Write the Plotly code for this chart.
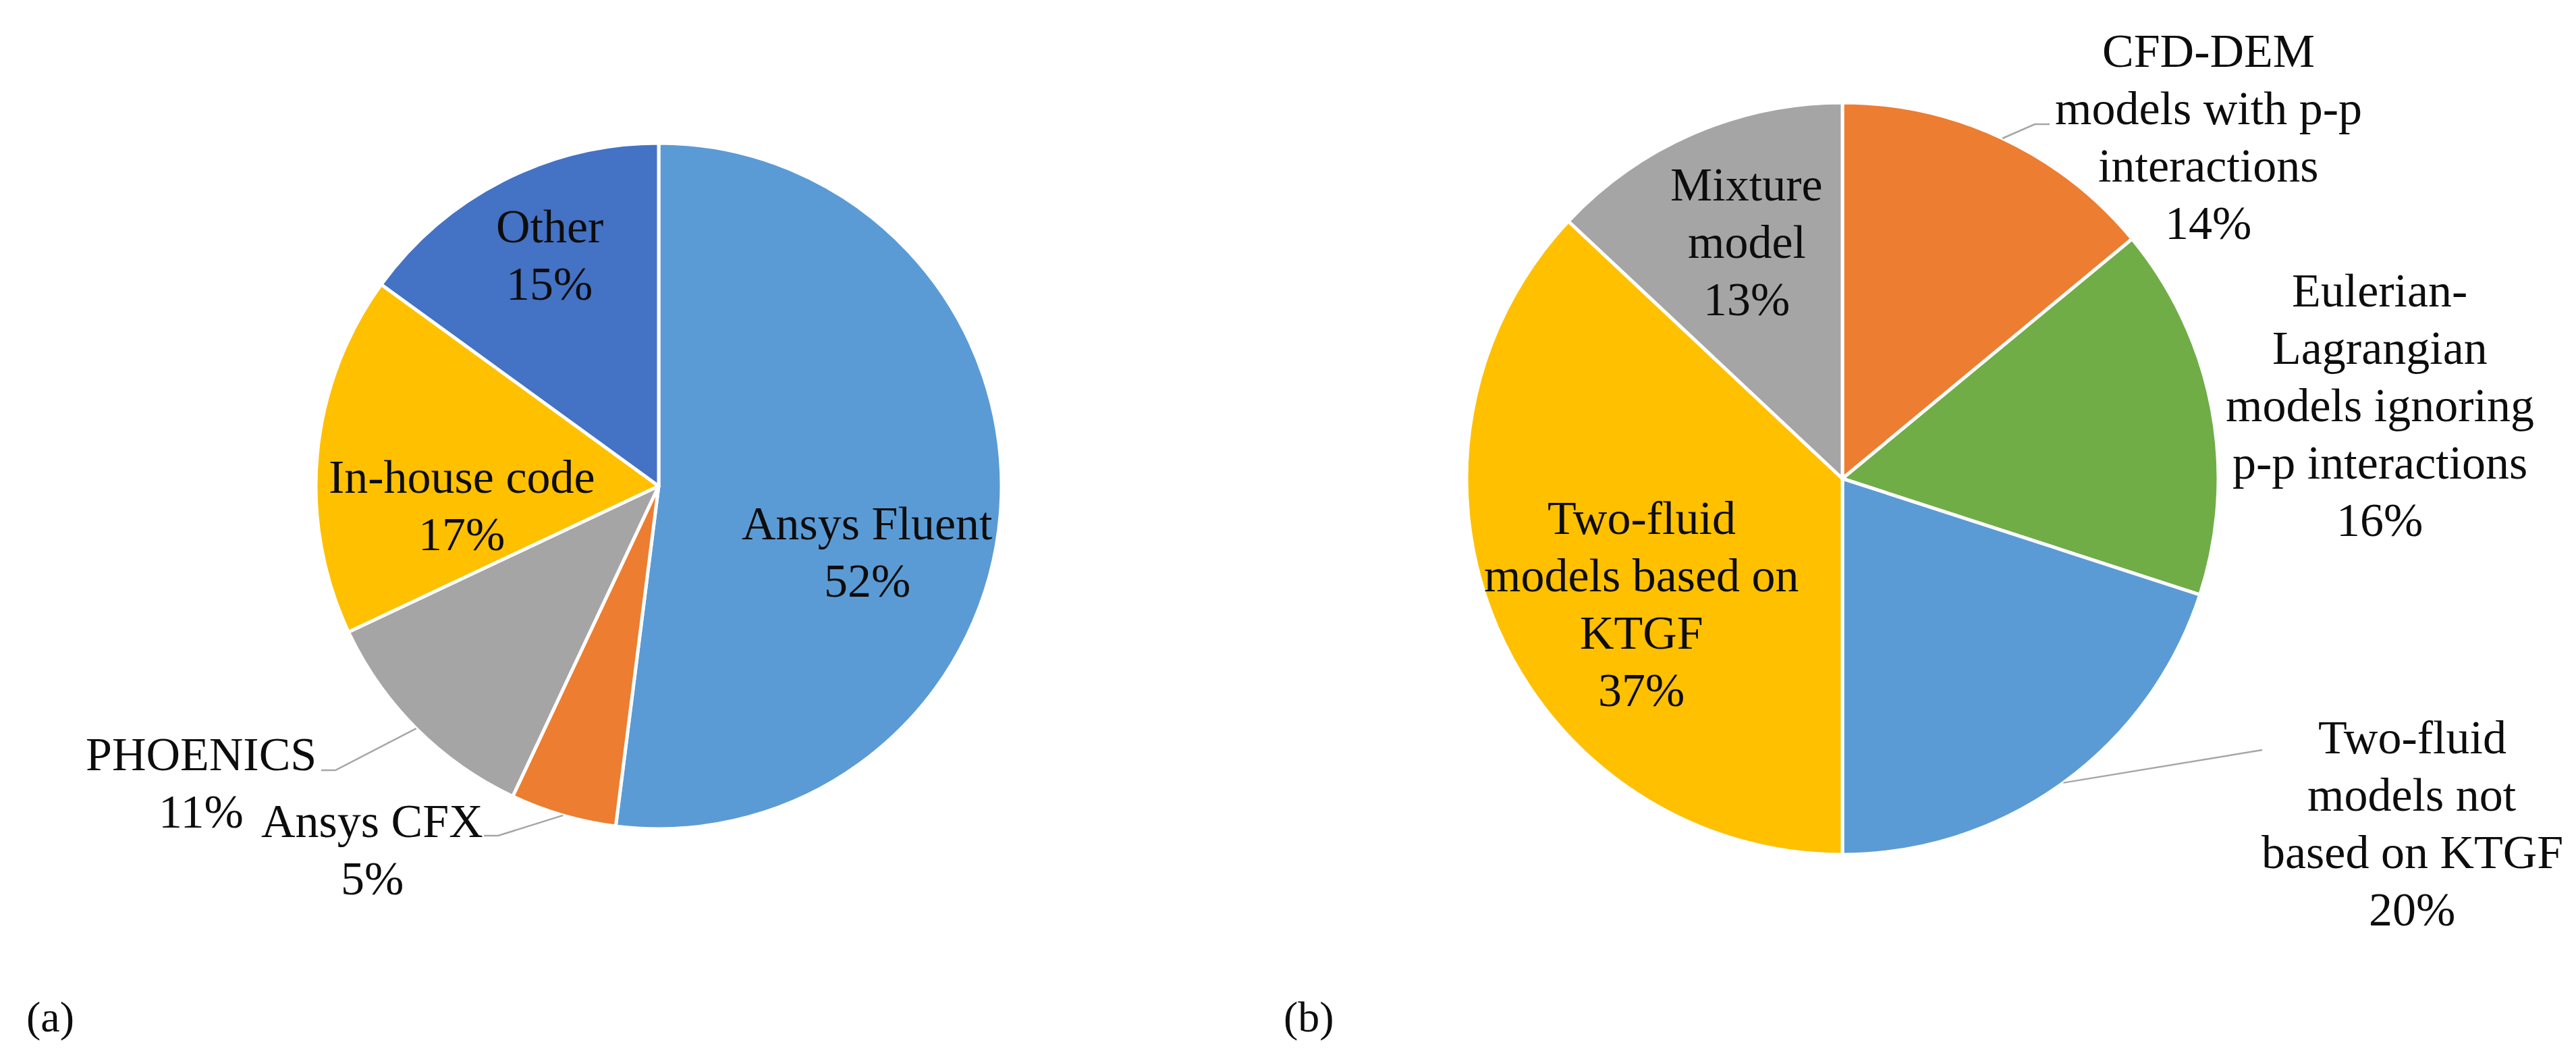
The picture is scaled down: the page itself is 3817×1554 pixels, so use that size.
import math
import plotly.graph_objects as go

W, H = 3817, 1554

# ---------------- data ----------------
left_categories = ["Ansys Fluent", "Ansys CFX", "PHOENICS", "In-house code", "Other"]
left_values = [52, 5, 11, 17, 15]
left_label_lines = [["Ansys Fluent"], ["Ansys CFX"], ["PHOENICS"], ["In-house code"], ["Other"]]

right_categories = [
    "CFD-DEM models with p-p interactions",
    "Eulerian-Lagrangian models ignoring p-p interactions",
    "Two-fluid models not based on KTGF",
    "Two-fluid models based on KTGF",
    "Mixture model",
]
right_values = [14, 16, 20, 37, 13]
right_label_lines = [
    ["CFD-DEM", "models with p-p", "interactions"],
    ["Eulerian-", "Lagrangian", "models ignoring", "p-p interactions"],
    ["Two-fluid", "models not", "based on KTGF"],
    ["Two-fluid", "models based on", "KTGF"],
    ["Mixture", "model"],
]
panel_tags = ["(a)", "(b)"]

# ---------------- styling / layout ----------------
left_colors = ["#5B9BD5", "#ED7D31", "#A5A5A5", "#FFC000", "#4472C4"]
right_colors = ["#ED7D31", "#70AD47", "#5B9BD5", "#FFC000", "#A5A5A5"]

FONT = "Liberation Serif, Times New Roman, serif"
FS = 70
LINE_GAP = 85
TEXT_COLOR = "#0d0d0d"
LEADER_COLOR = "#A6A6A6"

LEFT_C, LEFT_R = (968, 712), 508
RIGHT_C, RIGHT_R = (2722, 701), 557

# label anchor: (center x, first-line baseline y) in pixels
left_label_pos = [(1277, 791), (543, 1232), (290, 1133), (676, 722), (806, 351)]
right_label_pos = [(3264, 91), (3518, 446), (3566, 1108), (2424, 783), (2580, 289)]

# leader line elbows (label side), index -> points after the slice edge
left_leaders = {1: [(730, 1230), (709, 1230)], 2: [(489, 1133), (468, 1133)]}
right_leaders = {0: [(3007, 176), (3029, 176)], 2: [(3344, 1103)]}

tag_pos = [(66, 1520), (1932, 1520)]


def px(x):
    return x / W


def py(y):
    return 1 - y / H


def domain(c, r):
    return dict(x=[px(c[0] - r), px(c[0] + r)], y=[py(c[1] + r), py(c[1] - r)])


fig = go.Figure()
for vals, labs, cols, c, r in [
    (left_values, left_categories, left_colors, LEFT_C, LEFT_R),
    (right_values, right_categories, right_colors, RIGHT_C, RIGHT_R),
]:
    fig.add_trace(go.Pie(
        values=vals, labels=labs, sort=False, direction="clockwise", rotation=0,
        marker=dict(colors=cols, line=dict(color="white", width=5)),
        textinfo="none", hoverinfo="label+percent", domain=domain(c, r),
        showlegend=False,
    ))

annotations = []


def add_text(cx, base_y, text, size=FS):
    annotations.append(dict(
        x=px(cx), y=py(base_y - 0.34 * size), xref="paper", yref="paper",
        text=text, showarrow=False, xanchor="center", yanchor="middle",
        font=dict(family=FONT, size=size, color=TEXT_COLOR),
    ))


def edge_point(c, r, vals, i):
    total = sum(vals)
    mid = (sum(vals[:i]) + vals[i] / 2) / total * 2 * math.pi
    return (c[0] + r * math.sin(mid), c[1] - r * math.cos(mid))


for vals, lines, pos, leaders, c, r in [
    (left_values, left_label_lines, left_label_pos, left_leaders, LEFT_C, LEFT_R),
    (right_values, right_label_lines, right_label_pos, right_leaders, RIGHT_C, RIGHT_R),
]:
    total = sum(vals)
    for i, v in enumerate(vals):
        full = lines[i] + [f"{round(v / total * 100)}%"]
        cx, by = pos[i]
        for k, t in enumerate(full):
            add_text(cx, by + k * LINE_GAP, t)
        if i in leaders:
            pts = [edge_point(c, r, vals, i)] + leaders[i]
            path = "M " + " L ".join(f"{px(x):.6f} {py(y):.6f}" for x, y in pts)
            fig.add_shape(type="path", path=path, xref="paper", yref="paper",
                          line=dict(color=LEADER_COLOR, width=2.5))

for t, (x, y) in zip(panel_tags, tag_pos):
    add_text(x, y, t, size=64)

fig.update_layout(
    width=W, height=H, margin=dict(l=0, r=0, t=0, b=0),
    paper_bgcolor="white", plot_bgcolor="white",
    annotations=annotations, showlegend=False,
)

fig.write_html("out.html")
